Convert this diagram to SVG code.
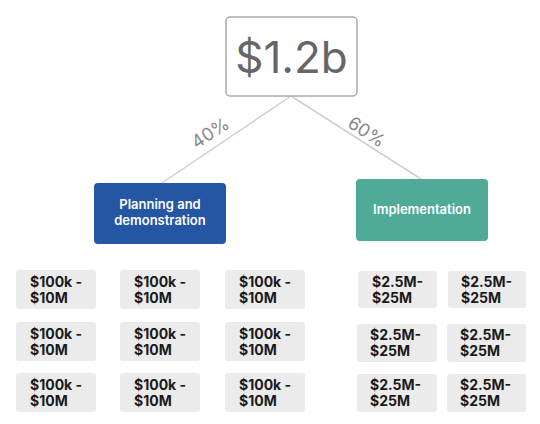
<svg xmlns="http://www.w3.org/2000/svg" width="540" height="424" viewBox="0 0 540 424">
<style>
text{font-family:Inter,"Liberation Sans",sans-serif}
.cell{fill:#ebebeb}
.ct{font-size:14px;font-weight:700;fill:#1a1a1a}
.pct{font-size:18px;fill:#888}
.wt{font-size:13px;font-weight:600;fill:#fff;text-anchor:middle}
.conn{stroke:#cfcfcf;stroke-width:1.5;fill:none}
</style>
<rect width="540" height="424" fill="#fff"/>
<g id="connectors">
<line class="conn" x1="291" y1="96" x2="162" y2="183"/>
<line class="conn" x1="291" y1="96" x2="421" y2="179"/>
<text class="pct" transform="translate(211,134) rotate(-33)" text-anchor="middle" dominant-baseline="middle">40%</text>
<text class="pct" transform="translate(366,133) rotate(33)" text-anchor="middle" dominant-baseline="middle">60%</text>
</g>
<g id="total">
<rect x="226" y="17" width="131" height="79" rx="4" fill="#fff" stroke="#aaa" stroke-width="1.5"/>
<text x="291.5" y="73" font-size="44" fill="#666" text-anchor="middle">$1.2b</text>
</g>
<g id="planning">
<rect x="94" y="183" width="132" height="61" rx="4" fill="#2456a4"/>
<text class="wt" x="160" y="209">Planning and</text>
<text class="wt" x="160" y="225">demonstration</text>
</g>
<g id="implementation">
<rect x="356" y="179" width="132" height="62" rx="4" fill="#4fab98"/>
<text class="wt" x="422" y="214">Implementation</text>
</g>
<g id="p1"><rect class="cell" x="16" y="270" width="80" height="39" rx="3"/><text class="ct" x="30" y="287">$100k -</text><text class="ct" x="30" y="303">$10M</text></g>
<g id="p2"><rect class="cell" x="120" y="270" width="80" height="39" rx="3"/><text class="ct" x="134" y="287">$100k -</text><text class="ct" x="134" y="303">$10M</text></g>
<g id="p3"><rect class="cell" x="225" y="270" width="80" height="39" rx="3"/><text class="ct" x="239" y="287">$100k -</text><text class="ct" x="239" y="303">$10M</text></g>
<g id="p4"><rect class="cell" x="16" y="322" width="80" height="39" rx="3"/><text class="ct" x="30" y="339">$100k -</text><text class="ct" x="30" y="355">$10M</text></g>
<g id="p5"><rect class="cell" x="120" y="322" width="80" height="39" rx="3"/><text class="ct" x="134" y="339">$100k -</text><text class="ct" x="134" y="355">$10M</text></g>
<g id="p6"><rect class="cell" x="225" y="322" width="80" height="39" rx="3"/><text class="ct" x="239" y="339">$100k -</text><text class="ct" x="239" y="355">$10M</text></g>
<g id="p7"><rect class="cell" x="16" y="373" width="80" height="39" rx="3"/><text class="ct" x="30" y="390">$100k -</text><text class="ct" x="30" y="406">$10M</text></g>
<g id="p8"><rect class="cell" x="120" y="373" width="80" height="39" rx="3"/><text class="ct" x="134" y="390">$100k -</text><text class="ct" x="134" y="406">$10M</text></g>
<g id="p9"><rect class="cell" x="225" y="373" width="80" height="39" rx="3"/><text class="ct" x="239" y="390">$100k -</text><text class="ct" x="239" y="406">$10M</text></g>
<g id="i1"><rect class="cell" x="358" y="271" width="79" height="37" rx="3"/><text class="ct" x="372" y="287">$2.5M-</text><text class="ct" x="372" y="303">$25M</text></g>
<g id="i2"><rect class="cell" x="448" y="271" width="78" height="37" rx="3"/><text class="ct" x="461" y="287">$2.5M-</text><text class="ct" x="461" y="303">$25M</text></g>
<g id="i3"><rect class="cell" x="357" y="324" width="80" height="38" rx="3"/><text class="ct" x="370" y="340">$2.5M-</text><text class="ct" x="370" y="356">$25M</text></g>
<g id="i4"><rect class="cell" x="447" y="324" width="79" height="38" rx="3"/><text class="ct" x="460" y="340">$2.5M-</text><text class="ct" x="460" y="356">$25M</text></g>
<g id="i5"><rect class="cell" x="357" y="374" width="80" height="38" rx="3"/><text class="ct" x="370" y="390">$2.5M-</text><text class="ct" x="370" y="406">$25M</text></g>
<g id="i6"><rect class="cell" x="447" y="374" width="79" height="38" rx="3"/><text class="ct" x="460" y="390">$2.5M-</text><text class="ct" x="460" y="406">$25M</text></g>
</svg>
